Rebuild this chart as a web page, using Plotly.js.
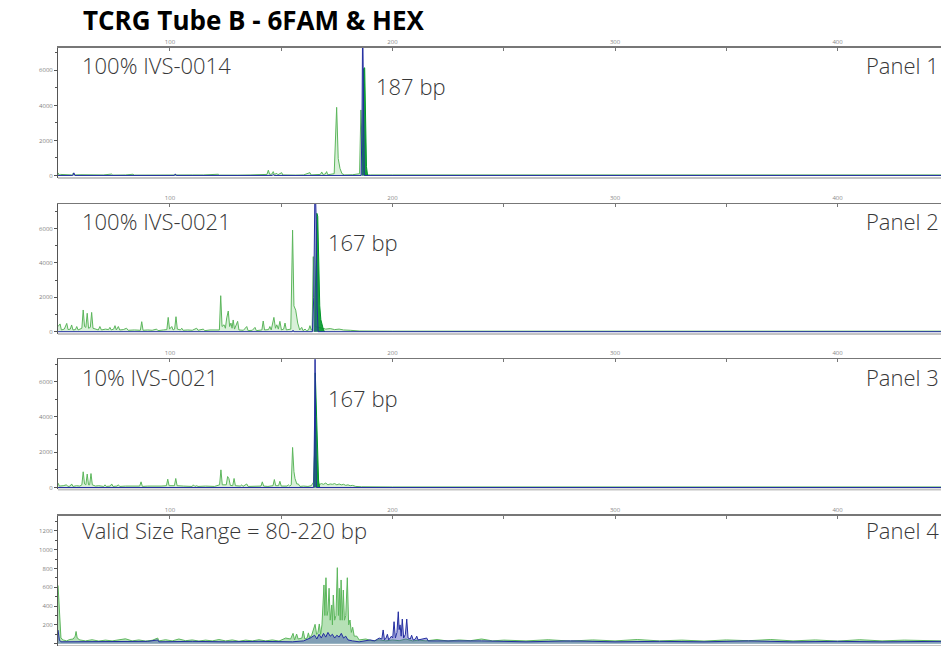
<!DOCTYPE html>
<html>
<head>
<meta charset="utf-8">
<script src="https://cdn.plot.ly/plotly-3.0.1.min.js"></script>
<style>html,body{margin:0;padding:0;background:#fff;}#chart{width:941px;height:646px;}</style>
</head>
<body>
<div id="chart"></div>
<script>
// ---------------- DATA (size in bp, signal in RFU) ----------------
const panelLabels = ["100% IVS-0014", "100% IVS-0021", "10% IVS-0021", "Valid Size Range = 80-220 bp"];
const panelNames = ["Panel 1", "Panel 2", "Panel 3", "Panel 4"];
const peakLabels = ["187 bp", "167 bp", "167 bp", ""];
const xTickVals = [100, 200, 300, 400];
const xTickText = ["100", "200", "300", "400"];

// Panel 1
const p1GreenX = [49.7,50.2,50.8,55.8,56.5,57.1,60,64,64.5,70,
  73.8,74.3,80,83.4,83.9,90,95,101.5,102.2,102.7,
  110,115,121.7,122.2,130,130.5,136,143.6,144.2,144.8,
  145.8,146.4,146.9,148,148.5,150.2,150.7,156,156.5,160,
  162.9,163.4,167.6,168.2,168.7,169.8,170.4,170.9,173.8,174.9,
  175.6,176.4,177.3,178.5,182,185.2,185.8,186.3,187.0,188.0,
  190,200,215,230,250,270,282,300,330,360,
  400,446.5];
const p1GreenY = [150,20,60,30,110,30,40,30,70,30,
  80,20,30,70,20,30,30,20,60,20,
  30,30,70,20,60,20,30,60,300,60,
  80,220,60,120,40,160,30,60,20,30,
  160,30,60,200,60,80,220,40,100,3890,
  970,400,100,30,40,100,3740,2000,300,40,
  30,30,30,30,30,40,30,30,30,30,
  30,30];
const p1DarkX = [186.4,186.7,187.0,187.5,187.9,188.3,188.8];
const p1DarkY = [0,4000,6100,6150,3000,500,0];
const p1BlueX = [49.7,56.3,56.8,57.3,102,102.4,102.8,146,146.4,146.8,185.9,186.3,186.6,186.9,187.3,446.5];
const p1BlueY = [0,0,150,0,0,90,0,0,60,0,0,3000,9000,3000,0,0];

// Panel 2
const p2GreenX = [49.7,50.6,51.2,52.5,53.6,54.2,55.2,55.8,56.4,57.5,
  58.1,58.7,60.4,61.0,61.6,62.2,62.8,63.4,64.2,64.8,
  65.4,66.5,67.8,68.5,69.2,71,72.4,73.0,73.6,74.7,
  75.3,75.9,76.8,77.4,79,80.5,81.2,84,86.7,87.3,
  87.9,90,92,94.0,94.6,97,98.6,99.2,99.8,100.8,
  101.4,102.1,102.7,103.3,104.7,105.3,105.9,108,110,112.0,
  112.6,115.0,115.6,118,120,122.2,122.8,123.4,124.3,124.9,
  125.5,126.2,126.8,127.4,127.9,128.4,129.0,130.4,131.0,133,
  134.5,135.1,137,138.2,138.8,140,141.3,141.9,142.5,144.3,
  144.9,145.5,146.7,147.4,148.0,148.7,149.4,150.1,151.1,151.7,
  152.3,154.3,155.1,155.7,156.5,157.4,158.3,159.2,159.8,160.7,
  161.4,162.3,162.9,163.5,163.9,164.4,164.9,165.2,168.5,170,
  172,174,176,178,181,185,200,230,260,300,
  340,380,420,446.5];
const p2GreenY = [300,450,100,150,480,120,150,390,100,120,
  300,100,200,1260,300,250,1070,200,250,1120,
  200,150,100,300,100,150,120,250,100,150,
  350,100,300,100,120,200,80,100,80,580,
  80,100,80,150,60,100,120,830,150,300,
  100,150,870,150,100,200,80,100,80,200,
  80,150,60,100,80,100,2090,300,400,200,
  800,1200,300,500,200,680,150,600,100,80,
  300,60,80,250,60,80,100,620,100,120,
  300,100,830,200,400,150,600,100,150,500,
  100,150,5900,1500,1250,500,100,250,60,150,
  60,100,350,80,200,4360,1000,300,200,150,
  180,120,150,100,80,40,30,30,30,30,
  30,30,30,30];
const p2DarkX = [165.0,165.5,166.0,166.4,166.9,167.3,167.8,168.4,169.0,169.5];
const p2DarkY = [0,4000,6880,6700,4000,1500,700,300,100,0];
const p2BlueX = [49.7,155,155.3,155.6,164.0,164.6,165.2,165.7,166.1,166.6,446.5];
const p2BlueY = [0,0,80,0,0,2000,9000,6500,1500,0,0];

// Panel 3
const p3GreenX = [49.7,50.3,52,53.5,54.1,55.2,55.8,56.4,58,59.5,
  60.4,61.0,61.6,62.2,62.8,63.4,63.9,64.5,65.1,66.5,
  68,70.2,70.8,71.4,73.2,73.8,74.4,76.2,76.8,77.4,
  80,83,86.4,87.0,87.6,90,93,96,98.4,99.0,
  99.6,101,102.0,102.6,103.2,106,110.0,110.5,111.2,112.0,
  112.6,116,120,122.3,122.9,123.5,125.3,125.9,126.5,127.1,
  128.2,128.8,129.4,131.6,132.2,132.8,134.5,135.1,137.6,138.2,
  138.8,140.9,141.5,142.1,144,146.3,146.9,147.5,148.8,149.4,
  150.0,152.6,153.2,153.8,154.5,155.1,155.7,156.2,157.0,157.7,
  158.4,160,162,163.5,164.5,165.0,167.0,168,169,170,
  171,172,173,174,175,176,177,178,179,180,
  181,182,183.5,186,200,230,260,300,340,380,
  420,446.5];
const p3GreenY = [250,80,100,150,60,80,200,60,100,80,
  150,890,200,150,760,150,150,790,150,80,
  100,60,150,60,80,200,60,80,150,60,
  80,60,80,320,60,80,60,80,100,470,
  100,80,100,510,100,80,60,150,60,100,
  60,80,60,150,1000,150,150,620,500,120,
  100,510,100,80,150,60,200,60,60,100,
  60,80,320,80,60,100,450,100,100,350,
  80,80,150,80,150,2270,900,500,200,200,
  60,80,60,100,300,2000,150,220,180,250,
  150,200,180,220,150,200,150,180,120,150,
  100,120,60,40,30,30,30,30,30,30,
  30,30];
const p3DarkX = [164.8,165.3,165.9,166.3,166.8,167.3];
const p3DarkY = [0,6500,4000,1500,300,0];
const p3BlueX = [49.7,164.6,165.0,165.2,165.5,165.8,446.5];
const p3BlueY = [0,0,4000,7300,3000,0,0];

// Panel 4
const p4GreenX = [49.7,50.1,50.5,51,52,53.5,55,56.5,57.4,57.8,
  58.3,59.5,62,65,68,71,74,77,80,83,
  86,89,92,94.5,95,98,101,104,107,110,
  113,116,119,122,125,128,131,134,137,140,
  143,146,149,152,154.2,155.3,156.0,156.9,157.6,159.3,
  159.9,160.6,161.6,162.2,162.8,163.8,164.5,165.2,165.9,166.5,
  167.1,167.7,168.3,168.8,169.2,169.6,170.1,170.6,171.0,171.5,
  172.0,172.7,173.0,173.4,174.0,174.6,175.2,175.7,176.1,176.5,
  176.9,177.4,177.9,178.4,179.0,179.7,180.3,180.9,181.5,182.1,
  182.8,184.0,185,188,191,194,197,200,203,206,
  209,212,215,220,225,230,235,240,245,250,
  260,270,280,290,300,310,320,330,340,350,
  360,370,380,390,400,410,420,430,440,446.5];
const p4GreenY = [620,450,150,60,40,30,45,50,80,130,
  60,40,30,42,28,38,30,44,52,30,
  40,28,36,60,30,42,30,50,32,40,
  28,38,30,44,30,40,26,38,30,42,
  30,40,28,60,50,110,40,103,50,60,
  135,50,60,115,60,100,150,206,100,120,
  210,100,200,400,625,300,702,300,350,590,
  250,412,200,518,250,300,809,300,590,250,
  678,250,571,250,300,702,200,252,120,175,
  80,80,40,50,30,42,30,40,32,50,
  30,38,30,44,28,40,32,50,30,38,
  30,42,28,40,30,44,30,38,28,40,
  32,44,30,40,28,42,30,38,30,30];
const p4BlueX = [49.7,50.3,51,60,70,80,90,94.5,95,110,
  125,140,155,160,163,165,166,167,168,169,
  170,171,172,173,174,175,176,177,178,179,
  180,182,185,190,192,194,195.2,195.8,196.4,197.1,
  197.7,198.3,199.5,200.1,200.7,201.3,202.0,202.6,203.0,203.4,
  203.9,204.4,205.0,205.8,206.4,207.0,208.0,208.6,209.3,210.3,
  210.9,211.5,213,215.4,216,220,230,240,260,280,
  300,320,340,360,380,400,420,446.5];
const p4BlueY = [145,40,20,20,25,20,25,40,20,25,
  20,25,20,30,60,90,50,100,60,110,
  70,120,80,100,60,90,70,110,60,80,
  40,30,20,40,30,60,50,146,40,60,
  100,40,80,60,234,60,120,340,150,200,
  80,262,60,100,262,60,50,90,40,50,
  80,40,50,60,30,30,25,30,20,30,
  20,25,20,30,20,25,20,25];

// ---------------- STYLE ----------------
const LIGHT = "rgb(92,182,92)";
const DARK = "rgb(0,150,40)";
const DARK_FILL = "rgba(0,150,40,0.9)";
const BLUE = "rgb(35,45,160)";
const BLUE_FILL = "rgba(50,60,180,0.40)";
const FONT = "Open Sans, Noto Sans, sans-serif";

const panels = [
  {gx:p1GreenX, gy:p1GreenY, dx:p1DarkX, dy:p1DarkY, bx:p1BlueX, by:p1BlueY},
  {gx:p2GreenX, gy:p2GreenY, dx:p2DarkX, dy:p2DarkY, bx:p2BlueX, by:p2BlueY},
  {gx:p3GreenX, gy:p3GreenY, dx:p3DarkX, dy:p3DarkY, bx:p3BlueX, by:p3BlueY},
  {gx:p4GreenX, gy:p4GreenY, dx:null, dy:null, bx:p4BlueX, by:p4BlueY}
];
const greenFill = ["rgba(130,205,130,0.30)","rgba(130,205,130,0.30)","rgba(130,205,130,0.30)","rgba(110,195,110,0.50)"];
const yDomains = [[0.7245,0.9262],[0.4830,0.6842],[0.2423,0.4438],[0,0.2017]];
const yRanges = [[-143,7297],[-134,7419],[-113,7269],[-24.5,1362]];
const yDtick = [2000,2000,2000,200];
const labelY = [0.9001,0.6586,0.4170,0.1795];
const peakY = [0.8672,0.6256,0.3834,0];
const peakX = [0.3975,0.3465,0.3465,0];

const traces = [];
const layout = {
  width: 941, height: 646,
  margin: {l:0, r:0, t:0, b:0},
  paper_bgcolor: "#ffffff", plot_bgcolor: "#ffffff",
  showlegend: false,
  font: {family: FONT},
  annotations: [],
  shapes: []
};

panels.forEach((p, i) => {
  const n = i === 0 ? "" : String(i + 1);
  const xa = "x" + n, ya = "y" + n;
  traces.push({type:"scatter", mode:"lines", x:p.gx, y:p.gy, xaxis:xa, yaxis:ya,
    line:{color:LIGHT, width:1}, fill:"tozeroy", fillcolor:greenFill[i], hoverinfo:"skip"});
  if (p.dx) traces.push({type:"scatter", mode:"lines", x:p.dx, y:p.dy, xaxis:xa, yaxis:ya,
    line:{color:DARK, width:1}, fill:"tozeroy", fillcolor:DARK_FILL, hoverinfo:"skip"});
  traces.push({type:"scatter", mode:"lines", x:p.bx, y:p.by, xaxis:xa, yaxis:ya,
    line:{color:BLUE, width:1}, fill:"tozeroy", fillcolor:BLUE_FILL, hoverinfo:"skip"});

  layout["xaxis" + n] = {
    domain:[0.0616, 1], range:[49.66, 446.5], anchor:ya, side:"top",
    showline:true, linecolor:"#777", linewidth:1.5, mirror:false,
    ticks:"inside", ticklen:3, tickwidth:1, tickcolor:"#777",
    tickvals:xTickVals, ticktext:xTickText,
    tickfont:{size:6, color:"#888", family:FONT},
    minor:{tickvals:[150,250,350], ticks:"inside", ticklen:3, tickcolor:"#777"},
    showgrid:false, zeroline:false, fixedrange:true
  };
  layout["yaxis" + n] = {
    domain:yDomains[i], range:yRanges[i], anchor:xa,
    showline:true, linecolor:"#555", linewidth:1,
    ticks:"outside", ticklen:3, tickcolor:"#555",
    tick0:0, dtick:yDtick[i],
    tickfont:{size:6, color:"#808080", family:FONT},
    minor:{dtick:yDtick[i]/2, ticks:"outside", ticklen:2, tickcolor:"#555"},
    showgrid:false, zeroline:false, fixedrange:true
  };
  layout.shapes.push({type:"line", xref:"paper", yref: ya + " domain", x0:0.0616, x1:1, y0:0, y1:0,
    line:{color:"#c4c4c4", width:2}});

  layout.annotations.push({xref:"paper", yref:"paper", x:0.0855, y:labelY[i], xanchor:"left", yanchor:"middle",
    text:panelLabels[i], showarrow:false, font:{size:22, color:"#383838", family:FONT, weight:300}});
  layout.annotations.push({xref:"paper", yref:"paper", x:1.0, y:labelY[i], xanchor:"right", yanchor:"middle",
    text:panelNames[i], showarrow:false, font:{size:22, color:"#383838", family:FONT, weight:300}});
  if (peakLabels[i]) layout.annotations.push({xref:"paper", yref:"paper", x:peakX[i], y:peakY[i],
    xanchor:"left", yanchor:"middle", text:peakLabels[i], showarrow:false,
    font:{size:22, color:"#383838", family:FONT, weight:300}});
});

layout.annotations.push({xref:"paper", yref:"paper", x:0.0865, y:0.9690, xanchor:"left", yanchor:"middle",
  text:"<b>TCRG Tube B - 6FAM &amp; HEX</b>", showarrow:false,
  font:{size:26, color:"#000", family:FONT}});

Plotly.newPlot("chart", traces, layout, {displayModeBar:false, staticPlot:true});
</script>
</body>
</html>
